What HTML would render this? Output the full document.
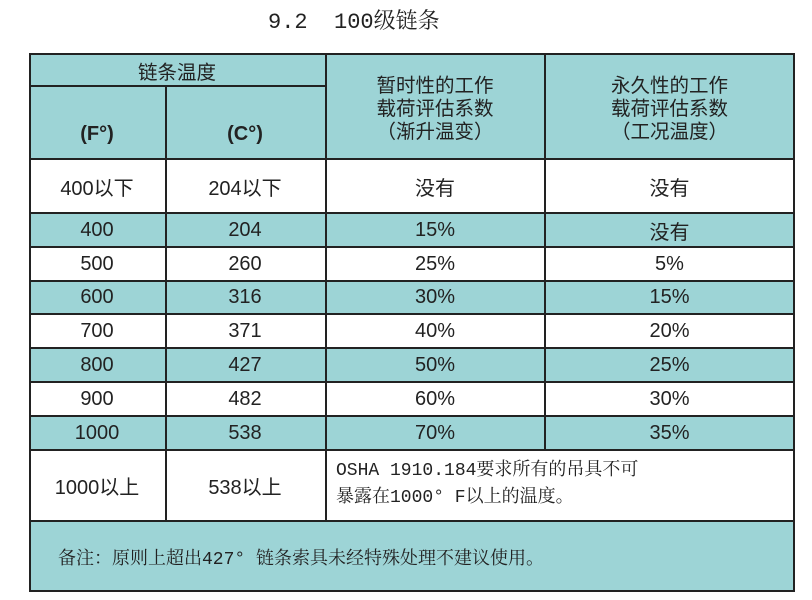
<!DOCTYPE html>
<html><head><meta charset="utf-8"><style>
body{margin:0;width:812px;height:600px;background:#fff;position:relative;overflow:hidden;font-family:"Liberation Sans","Noto Sans CJK SC",sans-serif;color:#222}
.t{position:absolute;left:268px;top:4px;font-family:"Liberation Mono","Noto Serif CJK SC",serif;font-size:22px;white-space:pre}
.c{position:absolute;box-sizing:border-box;display:flex;align-items:center;justify-content:center;text-align:center;font-size:20px}
.b{background:#9dd4d6}
.l{position:absolute;background:#222}
.s{font-family:"Liberation Mono","Noto Serif CJK SC",serif;font-size:18px;white-space:pre}
.h{font-size:19.5px;line-height:23px;padding-top:6px}
</style></head><body>
<div class="t">9.2  100级链条</div>
<div class="c b" style="left:29px;top:54px;width:765px;height:105px"></div>
<div class="c" style="left:29px;top:54px;width:296px;height:32px;font-size:19.5px">链条温度</div>
<div class="c" style="left:29px;top:110px;width:136px;height:49px;font-weight:bold">(F°)</div>
<div class="c" style="left:165px;top:110px;width:160px;height:49px;font-weight:bold">(C°)</div>
<div class="c h" style="left:325px;top:54px;width:220px;height:105px">暂时性的工作<br>载荷评估系数<br>（渐升温变）</div>
<div class="c h" style="left:545px;top:54px;width:249px;height:105px">永久性的工作<br>载荷评估系数<br>（工况温度）</div>

<div class="c" style="left:29px;top:159px;width:136px;height:54px">400以下</div>
<div class="c" style="left:165px;top:159px;width:160px;height:54px">204以下</div>
<div class="c" style="left:325px;top:159px;width:220px;height:54px">没有</div>
<div class="c" style="left:545px;top:159px;width:249px;height:54px">没有</div>

<div class="c b" style="left:29px;top:213px;width:765px;height:34px"></div>
<div class="c b" style="left:29px;top:281px;width:765px;height:33px"></div>
<div class="c b" style="left:29px;top:348px;width:765px;height:34px"></div>
<div class="c b" style="left:29px;top:416px;width:765px;height:34px"></div>

<div class="c" style="left:29px;top:213px;width:136px;height:34px">400</div><div class="c" style="left:165px;top:213px;width:160px;height:34px">204</div><div class="c" style="left:325px;top:213px;width:220px;height:34px">15%</div><div class="c" style="left:545px;top:213px;width:249px;height:34px">没有</div>
<div class="c" style="left:29px;top:247px;width:136px;height:34px">500</div><div class="c" style="left:165px;top:247px;width:160px;height:34px">260</div><div class="c" style="left:325px;top:247px;width:220px;height:34px">25%</div><div class="c" style="left:545px;top:247px;width:249px;height:34px">5%</div>
<div class="c" style="left:29px;top:281px;width:136px;height:33px">600</div><div class="c" style="left:165px;top:281px;width:160px;height:33px">316</div><div class="c" style="left:325px;top:281px;width:220px;height:33px">30%</div><div class="c" style="left:545px;top:281px;width:249px;height:33px">15%</div>
<div class="c" style="left:29px;top:314px;width:136px;height:34px">700</div><div class="c" style="left:165px;top:314px;width:160px;height:34px">371</div><div class="c" style="left:325px;top:314px;width:220px;height:34px">40%</div><div class="c" style="left:545px;top:314px;width:249px;height:34px">20%</div>
<div class="c" style="left:29px;top:348px;width:136px;height:34px">800</div><div class="c" style="left:165px;top:348px;width:160px;height:34px">427</div><div class="c" style="left:325px;top:348px;width:220px;height:34px">50%</div><div class="c" style="left:545px;top:348px;width:249px;height:34px">25%</div>
<div class="c" style="left:29px;top:382px;width:136px;height:34px">900</div><div class="c" style="left:165px;top:382px;width:160px;height:34px">482</div><div class="c" style="left:325px;top:382px;width:220px;height:34px">60%</div><div class="c" style="left:545px;top:382px;width:249px;height:34px">30%</div>
<div class="c" style="left:29px;top:416px;width:136px;height:34px">1000</div><div class="c" style="left:165px;top:416px;width:160px;height:34px">538</div><div class="c" style="left:325px;top:416px;width:220px;height:34px">70%</div><div class="c" style="left:545px;top:416px;width:249px;height:34px">35%</div>

<div class="c" style="left:29px;top:450px;width:136px;height:71px">1000以上</div>
<div class="c" style="left:165px;top:450px;width:160px;height:71px">538以上</div>
<div class="s" style="position:absolute;left:336px;top:458px;line-height:27px">OSHA 1910.184要求所有的吊具不可
暴露在1000° F以上的温度。</div>
<div class="c b" style="left:29px;top:521px;width:765px;height:71px"></div>
<div class="s" style="position:absolute;left:58px;top:544px">备注：原则上超出427° 链条索具未经特殊处理不建议使用。</div>

<div class="l" style="left:29px;top:53px;width:766px;height:2px"></div>
<div class="l" style="left:29px;top:85px;width:297px;height:2px"></div>
<div class="l" style="left:29px;top:158px;width:766px;height:2px"></div>
<div class="l" style="left:29px;top:212px;width:766px;height:2px"></div>
<div class="l" style="left:29px;top:246px;width:766px;height:2px"></div>
<div class="l" style="left:29px;top:280px;width:766px;height:2px"></div>
<div class="l" style="left:29px;top:313px;width:766px;height:2px"></div>
<div class="l" style="left:29px;top:347px;width:766px;height:2px"></div>
<div class="l" style="left:29px;top:381px;width:766px;height:2px"></div>
<div class="l" style="left:29px;top:415px;width:766px;height:2px"></div>
<div class="l" style="left:29px;top:449px;width:766px;height:2px"></div>
<div class="l" style="left:29px;top:520px;width:766px;height:2px"></div>
<div class="l" style="left:29px;top:590px;width:766px;height:2px"></div>
<div class="l" style="left:29px;top:53px;width:2px;height:539px"></div>
<div class="l" style="left:793px;top:53px;width:2px;height:539px"></div>
<div class="l" style="left:165px;top:86px;width:2px;height:435px"></div>
<div class="l" style="left:325px;top:53px;width:2px;height:468px"></div>
<div class="l" style="left:544px;top:53px;width:2px;height:397px"></div>
</body></html>
